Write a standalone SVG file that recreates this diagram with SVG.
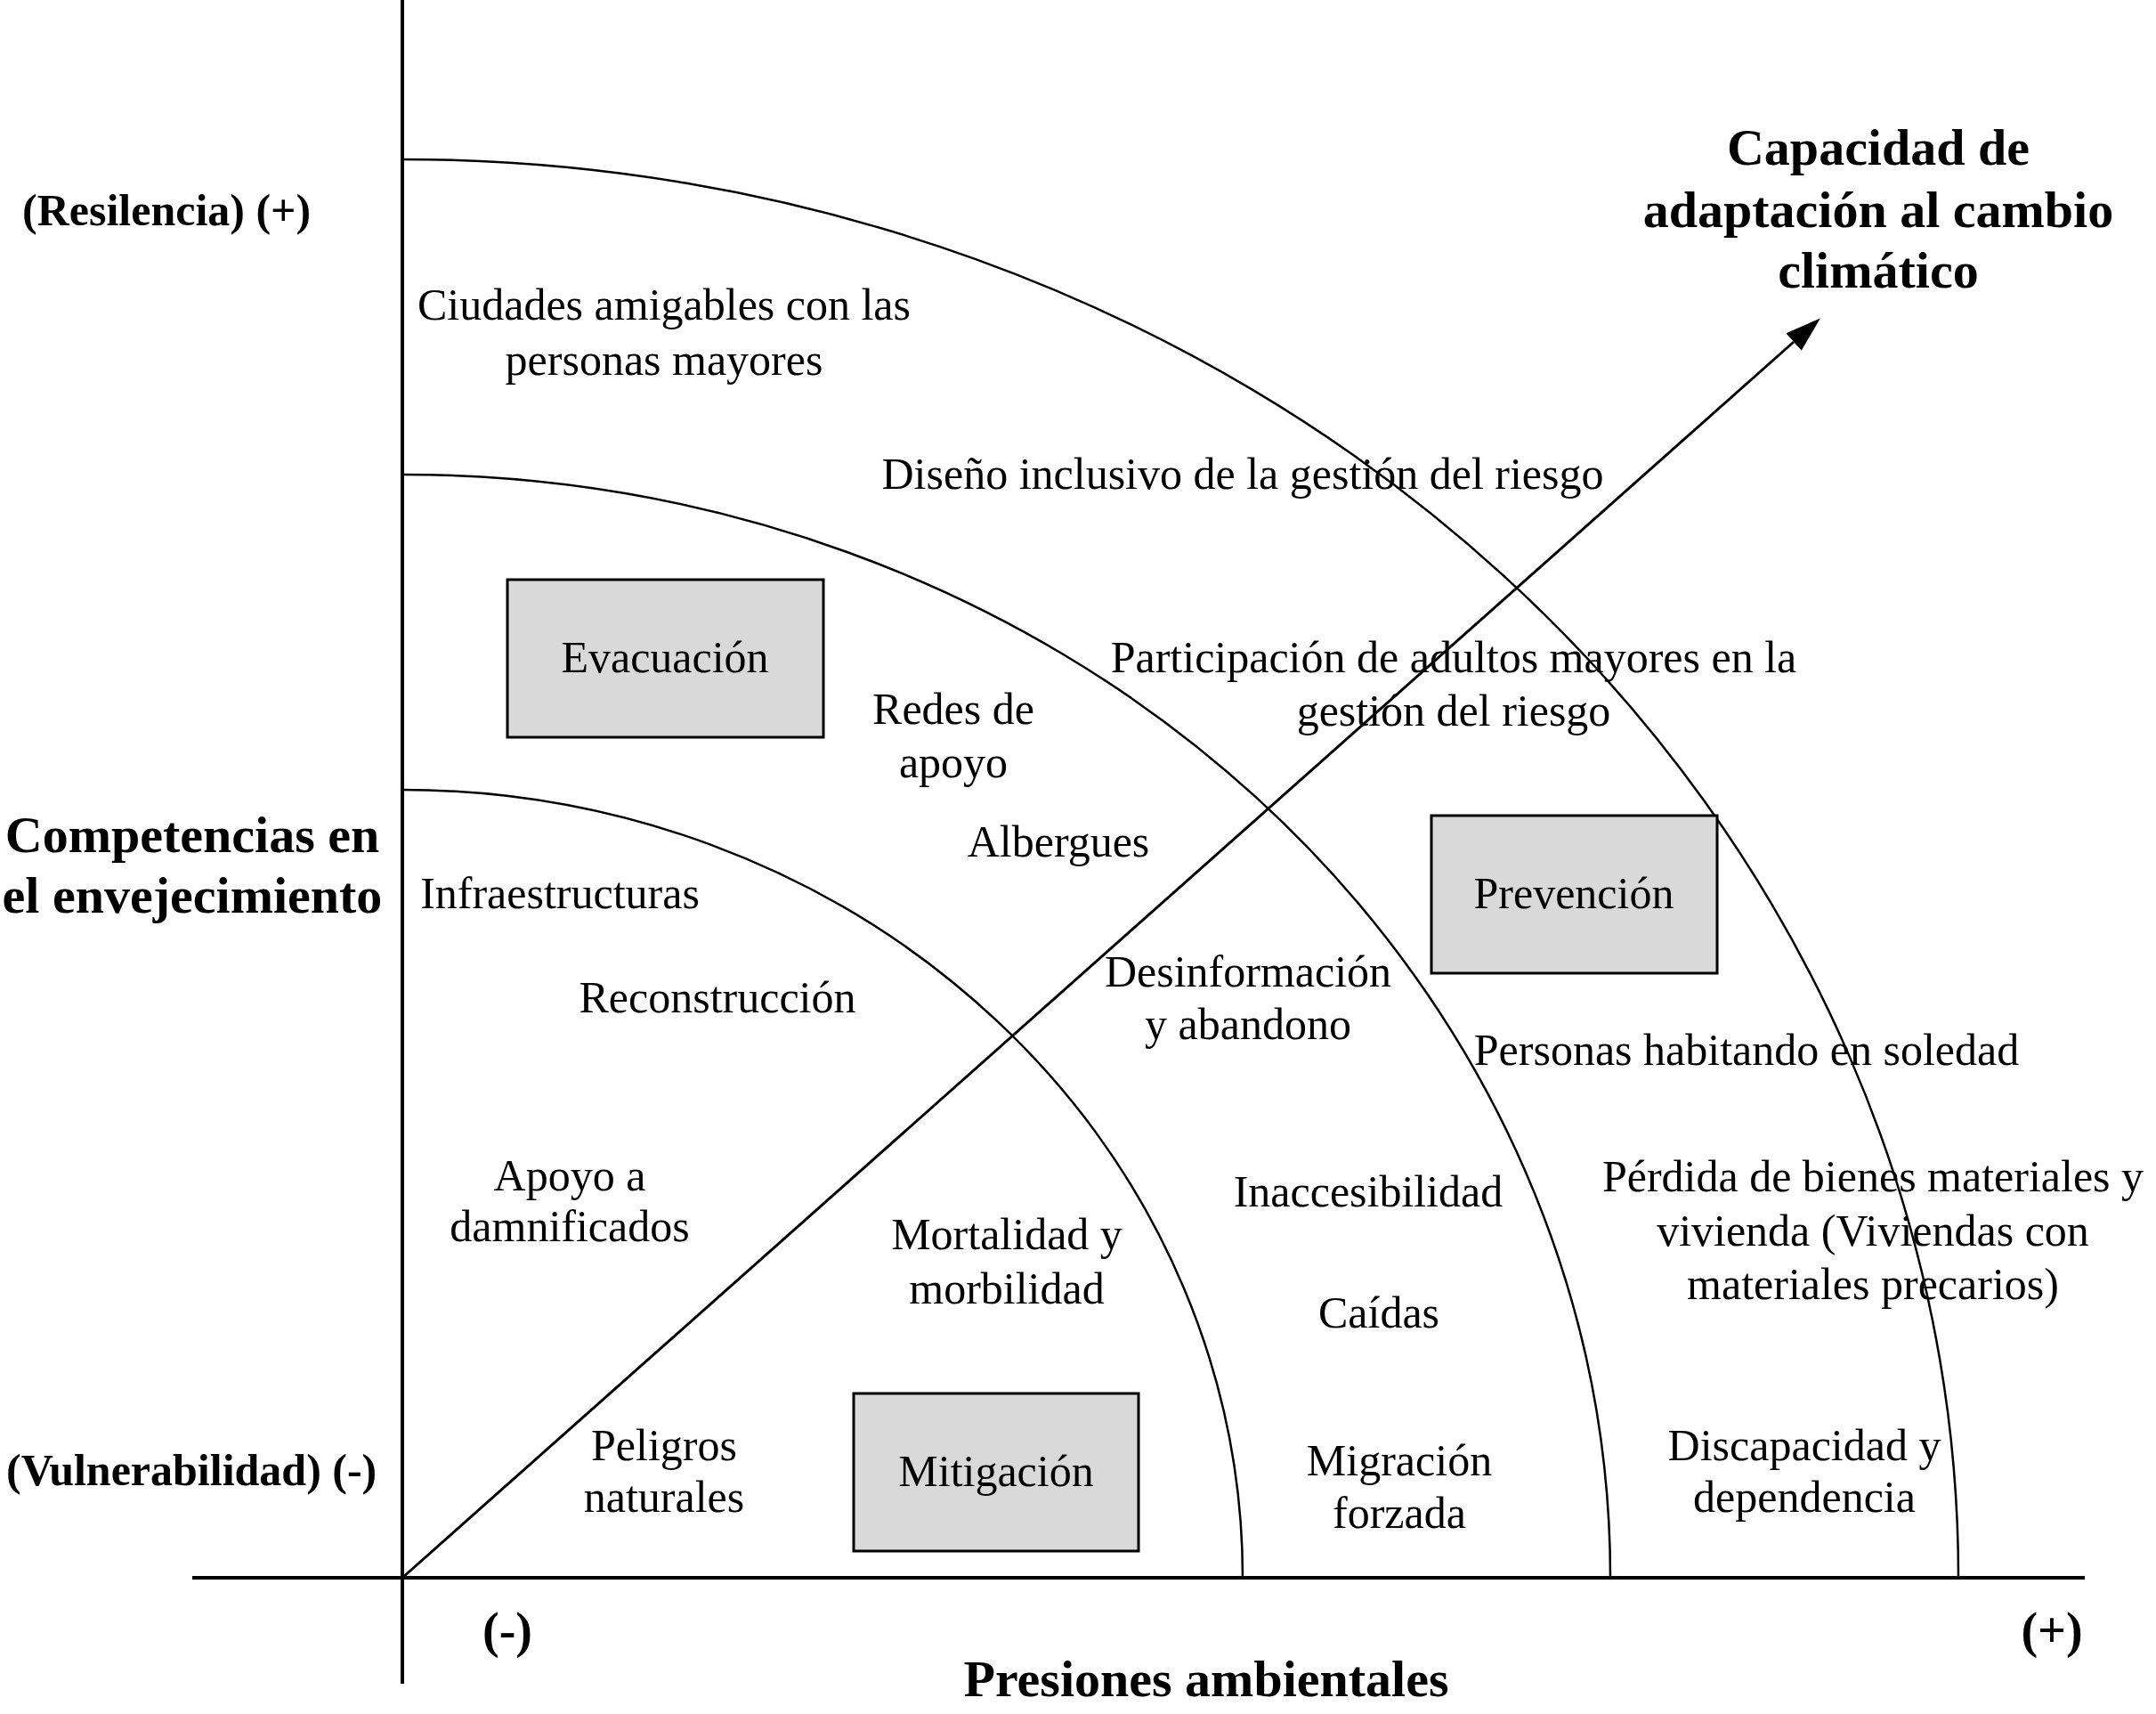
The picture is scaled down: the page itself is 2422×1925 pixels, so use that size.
<svg xmlns="http://www.w3.org/2000/svg" width="2422" height="1925" viewBox="0 0 2422 1925">
<defs>
<style>
.t{font-family:"Liberation Serif","Times New Roman",serif;font-size:50px;fill:#000;text-anchor:middle}
.b{font-family:"Liberation Serif","Times New Roman",serif;font-weight:bold;fill:#000}
.box{fill:#d9d9d9;stroke:#000;stroke-width:3}
.axis{stroke:#000;stroke-width:4;fill:none}
.arc{stroke:#000;stroke-width:2.5;fill:none}
.arrow{stroke:#000;stroke-width:3;fill:none}
</style>
<marker id="ah" viewBox="0 0 40 26" refX="0" refY="13" markerWidth="40" markerHeight="26" markerUnits="userSpaceOnUse" orient="auto">
<path d="M0,0 L40,13 L0,26 z" fill="#000"/>
</marker>
</defs>
<rect width="2422" height="1925" fill="#fff"/>
<g id="axes">
<line class="axis" x1="452" y1="0" x2="452" y2="1891"/>
<line class="axis" x1="216" y1="1772" x2="2342" y2="1772"/>
</g>
<g id="arcs">
<path class="arc" d="M452,179 A1748,1593 0 0 1 2200,1772"/>
<path class="arc" d="M452,533 A1357,1239 0 0 1 1809,1772"/>
<path class="arc" d="M452,887 A944,885 0 0 1 1396,1772"/>
</g>
<g id="connectors">
<line class="arrow" x1="452" y1="1772" x2="2015" y2="384" marker-end="url(#ah)"/>
</g>
<g id="node-evacuacion">
<rect class="box" x="570" y="651" width="355" height="177"/>
<text class="t" x="747" y="755">Evacuación</text>
</g>
<g id="node-prevencion">
<rect class="box" x="1608" y="916" width="321" height="177"/>
<text class="t" x="1768" y="1020">Prevención</text>
</g>
<g id="node-mitigacion">
<rect class="box" x="959" y="1565" width="320" height="177"/>
<text class="t" x="1119" y="1669">Mitigación</text>
</g>
<g id="axis-labels">
<text class="b" x="2110" y="185" font-size="58" text-anchor="middle">Capacidad de</text>
<text class="b" x="2110" y="255" font-size="58" text-anchor="middle">adaptación al cambio</text>
<text class="b" x="2110" y="323" font-size="58" text-anchor="middle">climático</text>
<text class="b" x="25" y="253" font-size="50">(Resilencia) (+)</text>
<text class="b" x="216" y="957" font-size="58" text-anchor="middle">Competencias en</text>
<text class="b" x="216" y="1025" font-size="58" text-anchor="middle">el envejecimiento</text>
<text class="b" x="7" y="1668" font-size="50">(Vulnerabilidad) (-)</text>
<text class="b" x="570" y="1850" font-size="56" text-anchor="middle">(-)</text>
<text class="b" x="2305" y="1850" font-size="56" text-anchor="middle">(+)</text>
<text class="b" x="1355" y="1905" font-size="58" text-anchor="middle">Presiones ambientales</text>
</g>
<g id="labels">
<g id="l-ciudades"><text class="t" x="746" y="359">Ciudades amigables con las</text><text class="t" x="746" y="421">personas mayores</text></g>
<g id="l-diseno"><text class="t" x="1396" y="549">Diseño inclusivo de la gestión del riesgo</text></g>
<g id="l-participacion"><text class="t" x="1633" y="755">Participación de adultos mayores en la</text><text class="t" x="1633" y="815">gestión del riesgo</text></g>
<g id="l-redes"><text class="t" x="1071" y="813">Redes de</text><text class="t" x="1071" y="873">apoyo</text></g>
<g id="l-albergues"><text class="t" x="1189" y="962">Albergues</text></g>
<g id="l-infra"><text class="t" x="629" y="1020">Infraestructuras</text></g>
<g id="l-recons"><text class="t" x="806" y="1137">Reconstrucción</text></g>
<g id="l-desinfo"><text class="t" x="1402" y="1108">Desinformación</text><text class="t" x="1402" y="1167">y abandono</text></g>
<g id="l-personas"><text class="t" x="1962" y="1196">Personas habitando en soledad</text></g>
<g id="l-apoyo"><text class="t" x="640" y="1337">Apoyo a</text><text class="t" x="640" y="1394">damnificados</text></g>
<g id="l-inacc"><text class="t" x="1537" y="1355">Inaccesibilidad</text></g>
<g id="l-perdida"><text class="t" x="2104" y="1338">Pérdida de bienes materiales y</text><text class="t" x="2104" y="1399">vivienda (Viviendas con</text><text class="t" x="2104" y="1459">materiales precarios)</text></g>
<g id="l-mortalidad"><text class="t" x="1131" y="1403">Mortalidad y</text><text class="t" x="1131" y="1464">morbilidad</text></g>
<g id="l-caidas"><text class="t" x="1549" y="1491">Caídas</text></g>
<g id="l-peligros"><text class="t" x="746" y="1640">Peligros</text><text class="t" x="746" y="1698">naturales</text></g>
<g id="l-migracion"><text class="t" x="1572" y="1657">Migración</text><text class="t" x="1572" y="1716">forzada</text></g>
<g id="l-discap"><text class="t" x="2027" y="1640">Discapacidad y</text><text class="t" x="2027" y="1698">dependencia</text></g>
</g>
</svg>
